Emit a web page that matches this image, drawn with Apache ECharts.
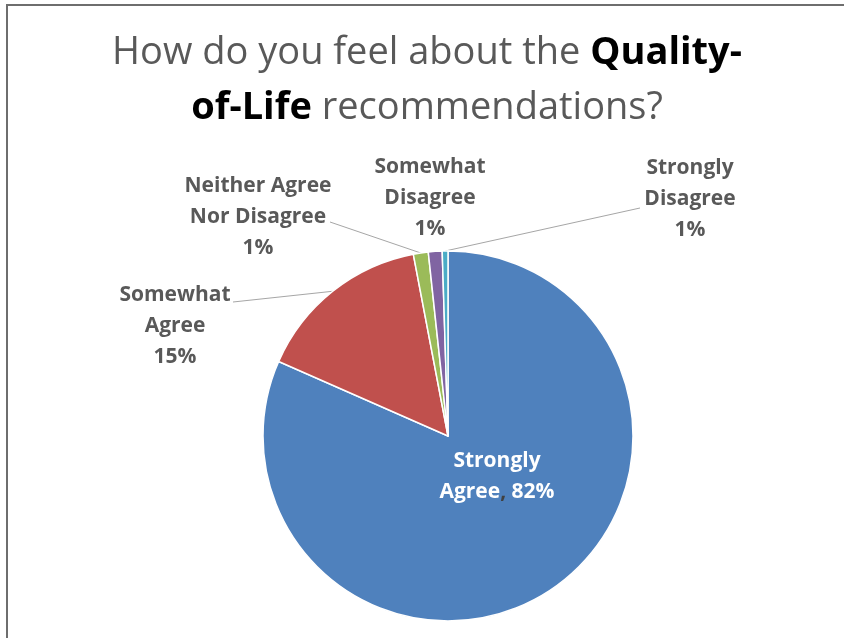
<!DOCTYPE html>
<html>
<head>
<meta charset="utf-8">
<script src="https://cdn.jsdelivr.net/npm/echarts@6/dist/echarts.min.js"></script>
<style>
  html, body { margin: 0; padding: 0; background: #ffffff; }
  #chart { width: 844px; height: 638px; }
</style>
</head>
<body>
<div id="chart"></div>
<script>
// Survey responses (percent of respondents)
const categories = [
  'Strongly Agree',
  'Somewhat Agree',
  'Neither Agree Nor Disagree',
  'Somewhat Disagree',
  'Strongly Disagree'
];
const values = [81.6, 15.4, 1.3, 1.2, 0.5];
// How each category name is broken onto lines in its label
const labelLines = [
  ['Strongly', 'Agree'],
  ['Somewhat', 'Agree'],
  ['Neither Agree', 'Nor Disagree'],
  ['Somewhat', 'Disagree'],
  ['Strongly', 'Disagree']
];
const colors = ['#4F81BD', '#C0504D', '#9BBB59', '#8064A2', '#4BACC6'];

// Label placement: centre of each label and where its leader line meets it
const labelCenter = [[497, 477], [175, 326], [258, 217], [430, 198], [690, 199]];
const leaderEnd = [null, [233, 302], [330, 222], null, [640, 208]];

const FONT = 'Open Sans';

const chart = echarts.init(document.getElementById('chart'), null, { renderer: 'canvas' });

const data = categories.map((name, i) => ({
  name: name,
  value: values[i],
  itemStyle: { color: colors[i] },
  label: i === 0 ? {
    position: 'inside',
    color: '#ffffff'
  } : { position: 'outside' },
  labelLine: { show: leaderEnd[i] !== null }
}));

chart.setOption({
  backgroundColor: '#ffffff',
  animation: false,
  title: {
    text: '{n|How do you feel about the }{b|Quality-}\n{b|of-Life}{n| recommendations?}',
    left: 422,
    textAlign: 'center',
    top: 21,
    textStyle: {
      fontWeight: 'normal',
      rich: {
        n: { fontFamily: FONT, fontSize: 38, color: '#595959', fontWeight: 'normal', lineHeight: 55 },
        b: { fontFamily: FONT, fontSize: 38, color: '#000000', fontWeight: 'bold', lineHeight: 55 }
      }
    }
  },
  graphic: [{
    type: 'rect',
    shape: { x: 7, y: 5, width: 900, height: 700 },
    style: { fill: 'none', stroke: '#6e6e6e', lineWidth: 2 },
    silent: true
  }],
  series: [{
    type: 'pie',
    center: [448, 436],
    radius: 185,
    startAngle: 90,
    clockwise: true,
    avoidLabelOverlap: false,
    itemStyle: { borderColor: '#ffffff', borderWidth: 1.5 },
    label: {
      fontFamily: FONT,
      fontSize: 21,
      fontWeight: 'bold',
      color: '#595959',
      lineHeight: 31,
      align: 'center',
      formatter: function (p) {
        const i = p.dataIndex;
        const pct = Math.round(p.value) + '%';
        const lines = labelLines[i];
        if (i === 0) {
          return lines[0] + '\n' + lines[1] + '{c|,} ' + pct;
        }
        return lines.join('\n') + '\n' + pct;
      },
      rich: {
        c: { fontFamily: FONT, fontSize: 21, fontWeight: 'bold', color: '#404040', lineHeight: 31 }
      }
    },
    labelLine: {
      lineStyle: { color: '#a6a6a6', width: 1 },
      length: 15,
      length2: 0
    },
    labelLayout: function (params) {
      const i = params.dataIndex;
      const c = labelCenter[i];
      const out = { x: c[0], y: c[1], align: 'center', verticalAlign: 'middle' };
      if (leaderEnd[i] && params.labelLinePoints) {
        out.labelLinePoints = [params.labelLinePoints[0], leaderEnd[i]];
      }
      return out;
    },
    data: data
  }]
});
</script>
</body>
</html>
